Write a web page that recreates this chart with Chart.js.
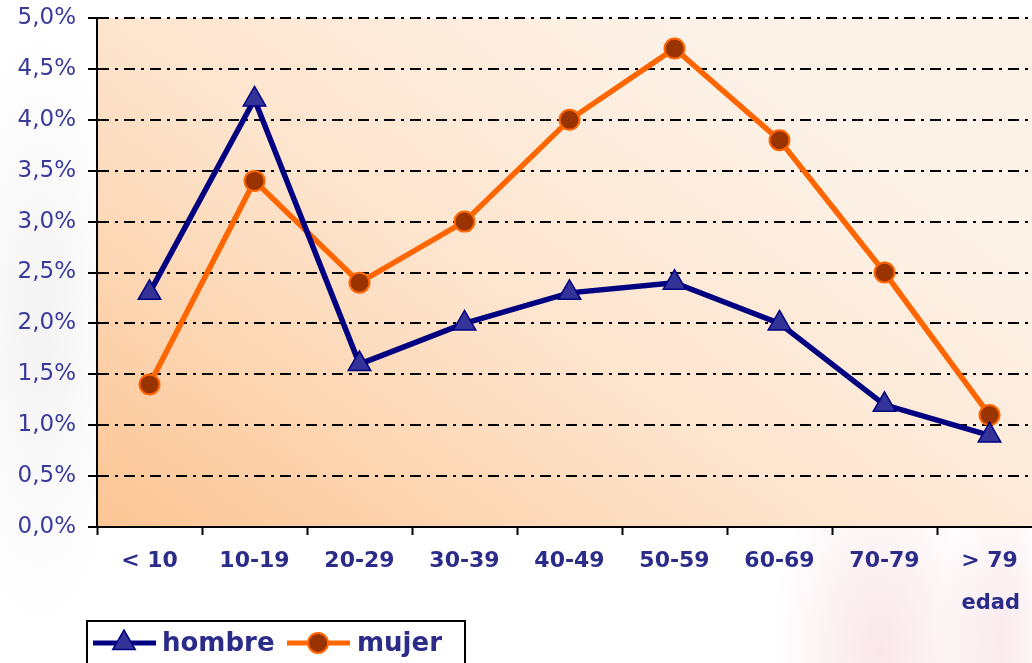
<!DOCTYPE html>
<html>
<head>
<meta charset="utf-8">
<script src="https://cdn.jsdelivr.net/npm/chart.js@4"></script>
<style>
  html { margin: 0; padding: 0; overflow: hidden; width: 1032px; height: 663px; }
  body {
    margin: 0; padding: 0;
    width: 1060px; height: 663px;
    background:
      radial-gradient(ellipse 110px 200px at 880px 650px, rgba(240,185,195,0.35), rgba(255,255,255,0) 100%),
      radial-gradient(ellipse 60px 180px at 1000px 640px, rgba(240,185,195,0.3), rgba(255,255,255,0) 100%),
      radial-gradient(ellipse 90px 300px at 40px 330px, rgba(200,200,200,0.22), rgba(255,255,255,0) 100%),
      #ffffff;
  }
  canvas { display: block; width: 1042px; height: 663px; }
</style>
</head>
<body>
<canvas id="c" width="1042" height="663"></canvas>
<script>
const categories = ['< 10', '10-19', '20-29', '30-39', '40-49', '50-59', '60-69', '70-79', '> 79'];
const hombre = [2.3, 4.2, 1.6, 2.0, 2.3, 2.4, 2.0, 1.2, 0.9];
const mujer = [1.4, 3.4, 2.4, 3.0, 4.0, 4.7, 3.8, 2.5, 1.1];
const axisTitle = 'edad';

const FONT = '"DejaVu Sans", Verdana, sans-serif';

// orange gradient behind the plot
const plotBg = {
  id: 'plotBg',
  beforeDraw(chart) {
    const {ctx, chartArea: a} = chart;
    const g = ctx.createLinearGradient(a.left, a.bottom, a.left + a.width * 0.45, a.top - a.height * 0.2);
    g.addColorStop(0, '#fcc594');
    g.addColorStop(0.55, '#fde4cd');
    g.addColorStop(1, '#fdf2e8');
    ctx.save();
    ctx.fillStyle = g;
    ctx.fillRect(a.left, a.top, a.width, a.height);
    ctx.restore();
  }
};

// legend box and axis title
const extras = {
  id: 'extras',
  afterDraw(chart) {
    const ctx = chart.ctx;
    ctx.save();
    ctx.fillStyle = '#2b2b8a';
    ctx.font = 'bold 21px ' + FONT;
    ctx.textAlign = 'right';
    ctx.textBaseline = 'alphabetic';
    ctx.fillText(axisTitle, 1020, 609);

    ctx.fillStyle = '#ffffff';
    ctx.fillRect(87, 621, 378, 50);
    ctx.strokeStyle = '#000';
    ctx.lineWidth = 2;
    ctx.strokeRect(87, 621, 378, 50);

    const items = [{x: 93, tx: 162}, {x: 287, tx: 357}];
    chart.data.datasets.forEach((ds, i) => {
      const it = items[i];
      const y = 643;
      ctx.strokeStyle = ds.borderColor;
      ctx.lineWidth = 5;
      ctx.beginPath();
      ctx.moveTo(it.x, y);
      ctx.lineTo(it.x + 63, y);
      ctx.stroke();
      ctx.fillStyle = ds.pointBackgroundColor;
      ctx.strokeStyle = ds.pointBorderColor;
      ctx.lineWidth = ds.pointBorderWidth;
      Chart.helpers.drawPoint(ctx, {pointStyle: ds.pointStyle, radius: ds.pointRadius, borderWidth: ds.pointBorderWidth}, it.x + 31, y);
      ctx.fillStyle = '#2b2b8a';
      ctx.font = 'bold 26px ' + FONT;
      ctx.textAlign = 'left';
      ctx.textBaseline = 'middle';
      ctx.fillText(ds.label, it.tx, y + 1);
    });
    ctx.restore();
  }
};

new Chart(document.getElementById('c'), {
  type: 'line',
  data: {
    labels: categories,
    datasets: [
      {
        label: 'hombre',
        data: hombre,
        borderColor: '#000080',
        borderWidth: 5.5,
        pointStyle: 'triangle',
        pointRadius: 13,
        pointBackgroundColor: '#333399',
        pointBorderColor: '#000080',
        pointBorderWidth: 1.5,
        tension: 0
      },
      {
        label: 'mujer',
        data: mujer,
        borderColor: '#ff6600',
        borderWidth: 5.5,
        pointStyle: 'circle',
        pointRadius: 10,
        pointBackgroundColor: '#993300',
        pointBorderColor: '#ff6600',
        pointBorderWidth: 2,
        tension: 0
      }
    ]
  },
  options: {
    responsive: false,
    animation: false,
    layout: { autoPadding: false, padding: { top: 18, left: 0, right: 0, bottom: 0 } },
    plugins: {
      legend: { display: false },
      tooltip: { enabled: false }
    },
    scales: {
      x: {
        offset: true,
        afterFit: s => {
          s.height = 136;
          s.paddingLeft = 0; s.paddingRight = 0;
        },
        grid: {
          offset: true,
          drawOnChartArea: false,
          tickLength: 8,
          tickColor: '#000',
          tickWidth: 2
        },
        border: { color: '#000', width: 2 },
        ticks: {
          padding: 13,
          color: '#2b2b8a',
          font: { family: FONT, size: 22, weight: 'bold' },
          maxRotation: 0
        }
      },
      y: {
        min: 0,
        max: 5,
        afterFit: s => {
          s.width = 97;
          s.paddingTop = 0; s.paddingBottom = 0;
        },
        grid: {
          color: '#000',
          lineWidth: 2,
          tickLength: 9,
          tickColor: '#000',
          tickWidth: 2
        },
        border: { color: '#000', width: 2, dash: [11, 6, 3, 6] },
        ticks: {
          stepSize: 0.5,
          padding: 12,
          color: '#3a3a9c',
          font: { family: FONT, size: 23 },
          callback: v => v.toFixed(1).replace('.', ',') + '%'
        }
      }
    }
  },
  plugins: [plotBg, extras]
});
</script>
</body>
</html>
